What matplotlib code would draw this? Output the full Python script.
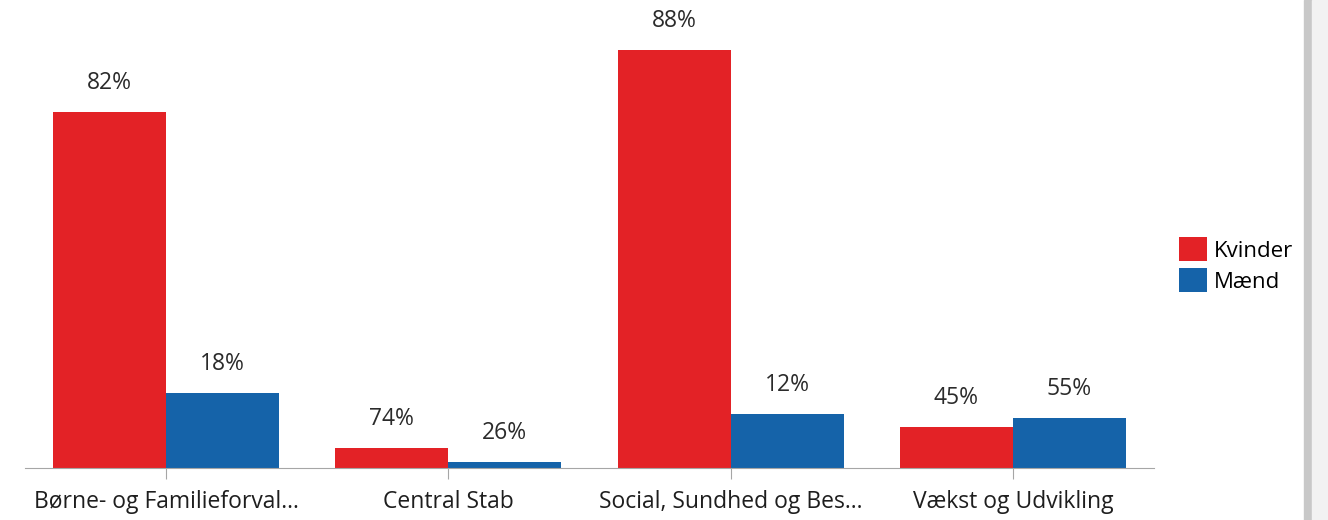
import numpy as np
import matplotlib
matplotlib.use("Agg")
import matplotlib.pyplot as plt
from matplotlib.patches import Rectangle

plt.rcParams['font.family'] = ['Open Sans', 'DejaVu Sans']

categories = ["Børne- og Familieforval...", "Central Stab", "Social, Sundhed og Bes...", "Vækst og Udvikling"]
series = ["Kvinder", "Mænd"]
kvinder = [356, 20, 418, 41]
maend = [75, 6, 54, 50]
kvinder_pct = ["82%", "74%", "88%", "45%"]
maend_pct = ["18%", "26%", "12%", "55%"]

red = "#E32226"
blue = "#1563A9"
W, H = 1328, 520

fig = plt.figure(figsize=(W / 100, H / 100), dpi=100)
ax = fig.add_axes([25 / W, 52 / H, (1154 - 25) / W, 468 / H])

x = np.arange(len(categories))
bw = 0.4
b1 = ax.bar(x - bw / 2, kvinder, bw, color=red, label=series[0])
b2 = ax.bar(x + bw / 2, maend, bw, color=blue, label=series[1])

for bars, labels in [(b1, kvinder_pct), (b2, maend_pct)]:
    for b, lab in zip(bars, labels):
        ax.annotate(lab, (b.get_x() + b.get_width() / 2, b.get_height()),
                    xytext=(0, 12), textcoords="offset points",
                    ha="center", va="bottom", fontsize=16.5, color="#2b2b2b")

ax.set_xlim(-0.5, len(categories) - 0.5)
ax.set_ylim(0, 468)
ax.set_xticks(x)
ax.set_xticklabels(categories, fontsize=16.5, color="#1e1e1e")
ax.set_yticks([])
for s in ["top", "right", "left"]:
    ax.spines[s].set_visible(False)
ax.spines["bottom"].set_color("#A6A6A6")
ax.tick_params(axis="x", length=8, color="#A6A6A6", pad=8)

fig.legend(loc="center left", bbox_to_anchor=(1168 / W, 1 - 265 / H),
           frameon=False, fontsize=16, handlelength=1.25, handleheight=1.25,
           handletextpad=0.3, labelspacing=0.3, borderpad=0)

# window edge shadow on the right
fig.patches.append(Rectangle((1304 / W, 0), 8 / W, 1, transform=fig.transFigure,
                             color="#C8C8C8", zorder=0))
fig.patches.append(Rectangle((1312 / W, 0), 16 / W, 1, transform=fig.transFigure,
                             color="#F2F2F2", zorder=0))

fig.savefig("out.png", dpi=100)
